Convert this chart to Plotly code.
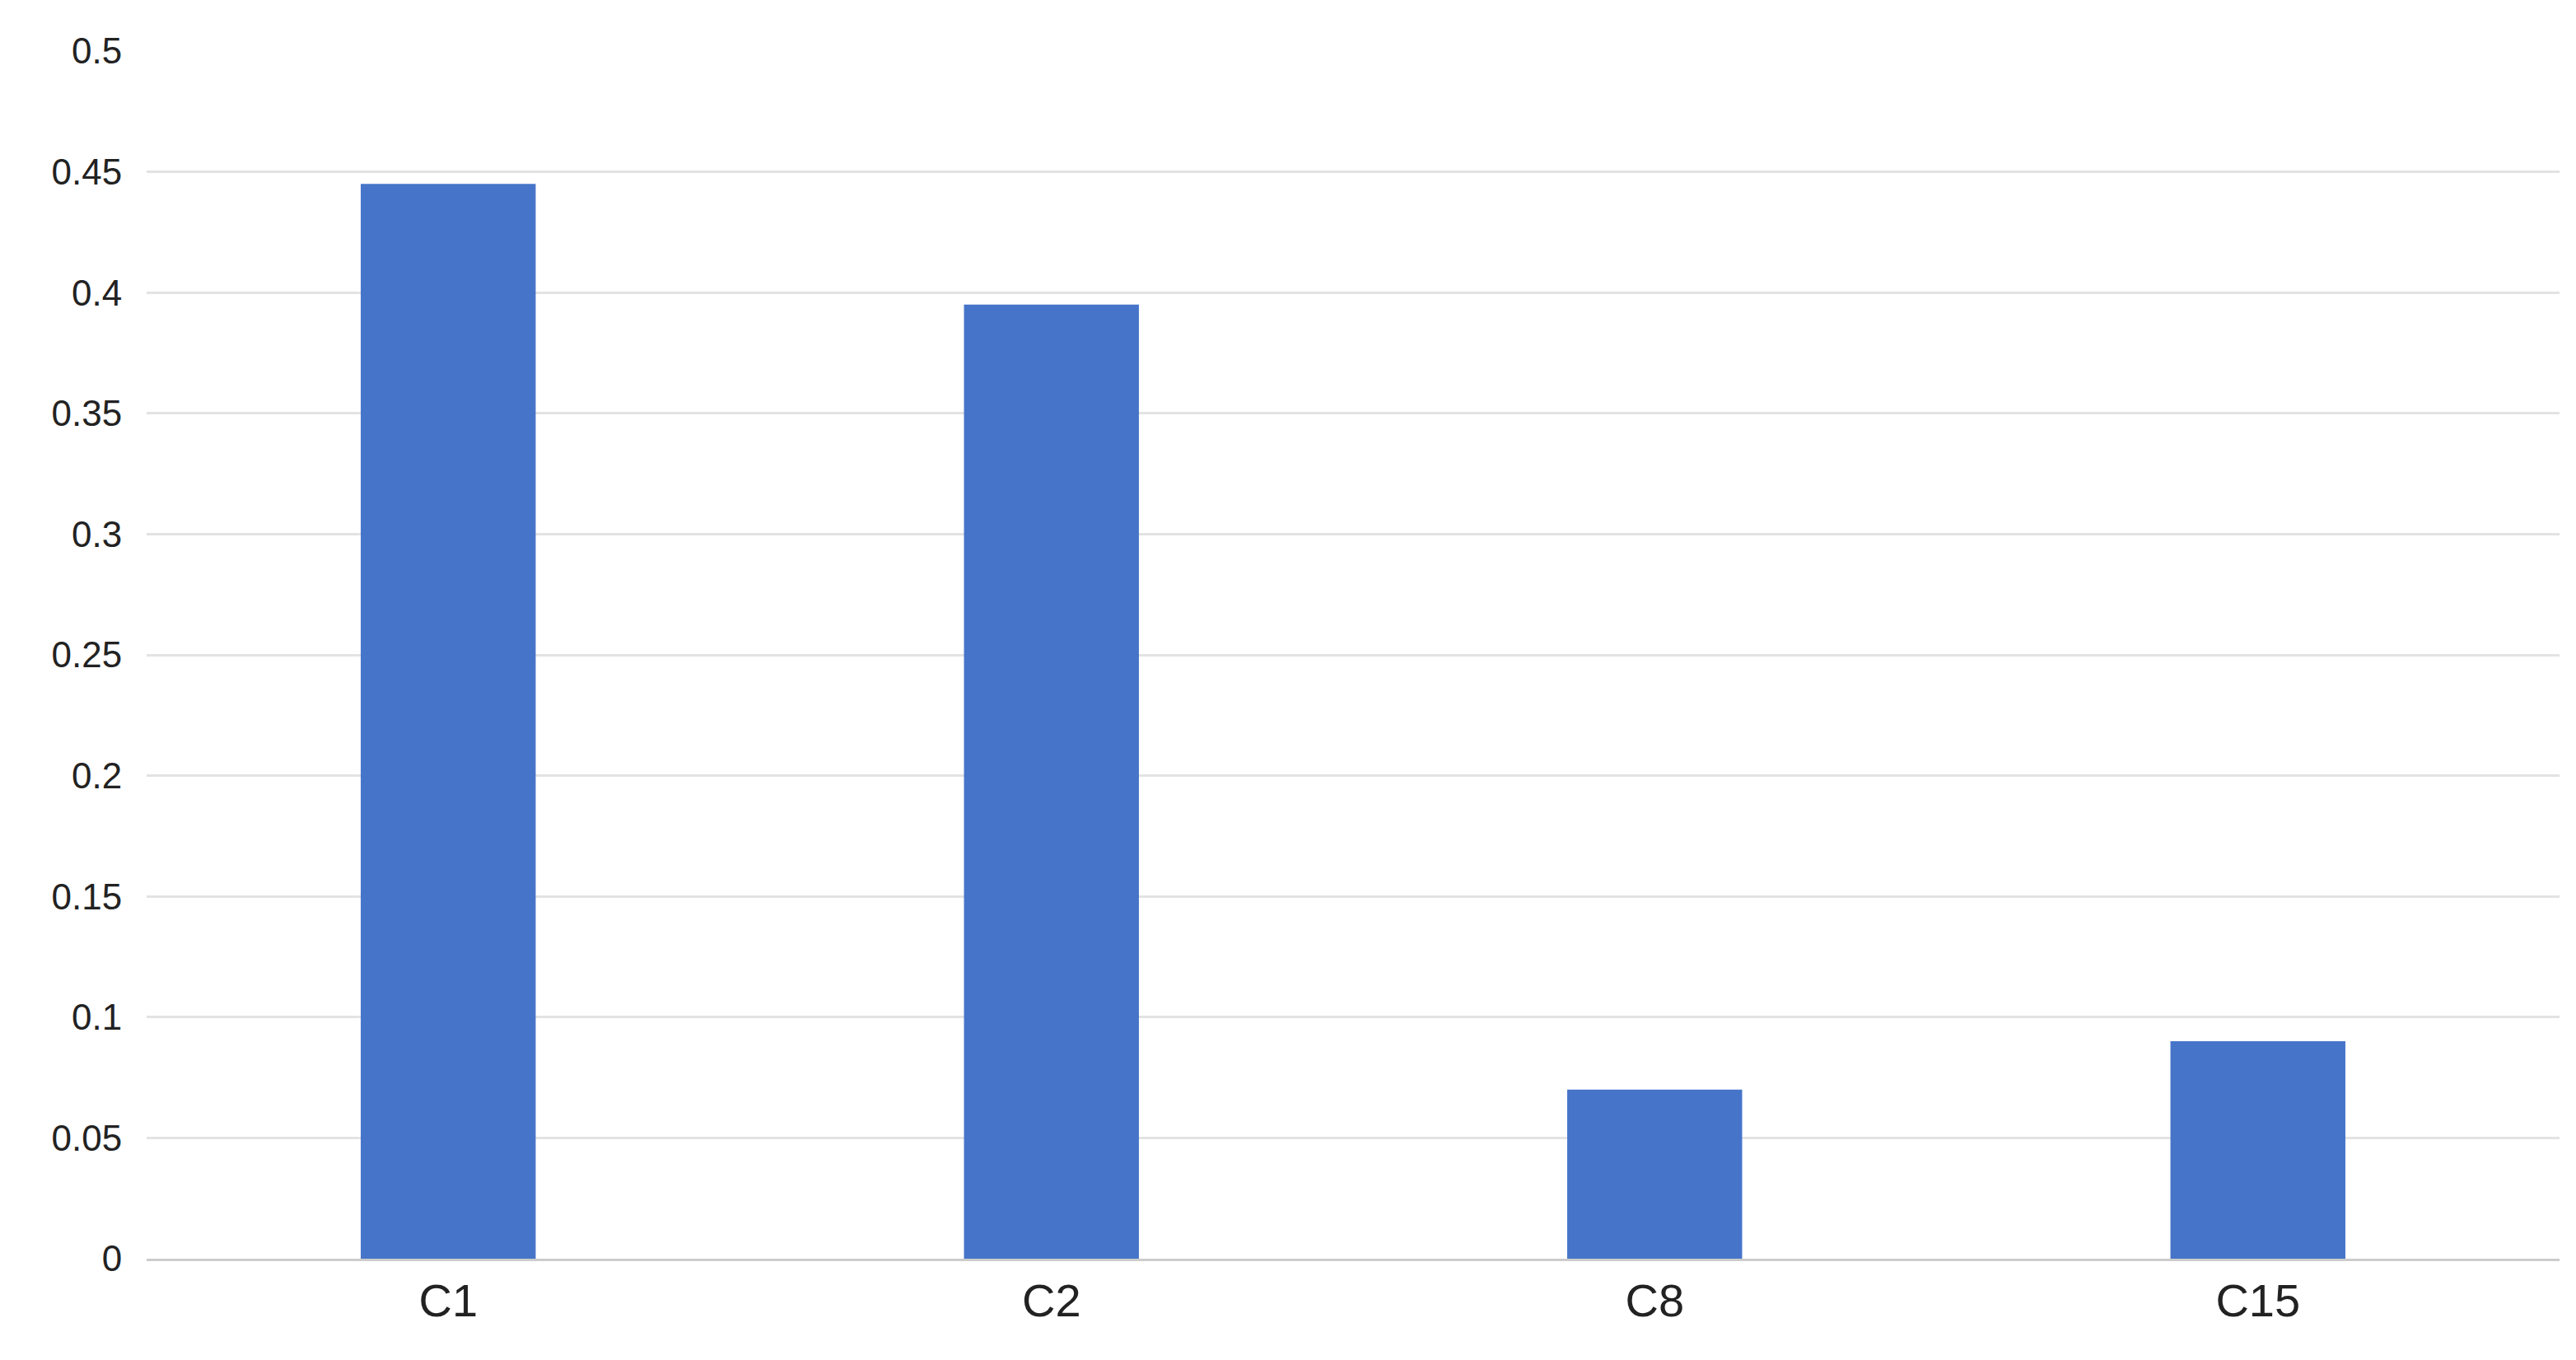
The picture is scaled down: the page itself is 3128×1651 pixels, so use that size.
import plotly.graph_objects as go

categories = ["C1", "C2", "C8", "C15"]
values = [0.445, 0.395, 0.07, 0.09]
y_ticks = [0, 0.05, 0.1, 0.15, 0.2, 0.25, 0.3, 0.35, 0.4, 0.45, 0.5]
y_labels = ["0", "0.05", "0.1", "0.15", "0.2", "0.25", "0.3", "0.35", "0.4", "0.45", "0.5"]

fig = go.Figure(go.Bar(x=categories, y=values, marker_color="#4674C9", marker_line_width=0))

fig.update_layout(
    width=3128, height=1651,
    margin=dict(l=170, r=28, t=54, b=131),
    plot_bgcolor="white", paper_bgcolor="white",
    bargap=0.71, showlegend=False,
    font=dict(family="Liberation Sans, Arial", color="#222222"),
)
fig.update_xaxes(tickfont=dict(size=56), showline=True, linecolor="#cccccc", linewidth=3,
                 ticks="", ticklen=0)
fig.update_yaxes(range=[0, 0.5], tickvals=y_ticks, ticktext=y_labels, tickfont=dict(size=44),
                 gridcolor="#e3e3e3", gridwidth=3, zeroline=False, ticks="outside",
                 ticklen=20, tickcolor="white")

fig.write_html("out.html")
